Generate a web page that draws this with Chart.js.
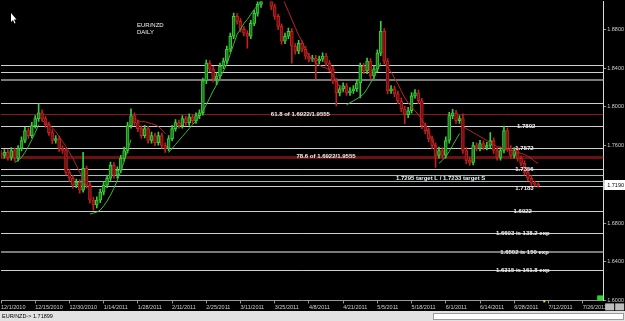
<!DOCTYPE html>
<html>
<head>
<meta charset="utf-8">
<style>
  html, body { margin: 0; padding: 0; background: #000; }
  canvas { display: block; }
</style>
</head>
<body>
<canvas id="myChart" width="625" height="321"></canvas>
<script src="https://cdn.jsdelivr.net/npm/chart.js@4.4.0/dist/chart.umd.min.js"></script>
<script>
const ctx = document.getElementById('myChart');

// date labels, one every 10 daily bars
const tickLabels = ['12/1/2010', '12/15/2010', '12/30/2010', '1/14/2011', '1/28/2011', '2/11/2011',
  '2/25/2011', '3/11/2011', '3/25/2011', '4/8/2011', '4/21/2011', '5/5/2011', '5/18/2011',
  '6/1/2011', '6/14/2011', '6/28/2011', '7/12/2011', '7/26/2011'];
const barsPerTick = 10;
const slotCount = 177; // daily slots on the axis, the last ones still empty

const yTicks = [1.60, 1.64, 1.68, 1.72, 1.76, 1.80, 1.84, 1.88];
const yMin = 1.6;
const yMax = 1.909;

// EUR/NZD daily candles
const open = [
  1.7520, 1.7499, 1.7530, 1.7478, 1.7550, 1.7468, 1.7571, 1.7653, 1.7756, 1.7704,
  1.7807, 1.7879, 1.7940, 1.7879, 1.7817, 1.7735, 1.7653, 1.7673, 1.7571, 1.7550,
  1.7324, 1.7263, 1.7191, 1.7222, 1.7140, 1.7365, 1.7191, 1.7037, 1.6986, 1.7037,
  1.7119, 1.7191, 1.7263, 1.7396, 1.7294, 1.7345, 1.7468, 1.7550, 1.7807, 1.7910,
  1.7838, 1.7776, 1.7704, 1.7776, 1.7653, 1.7704, 1.7632, 1.7704, 1.7602, 1.7571,
  1.7673, 1.7776, 1.7838, 1.7807, 1.7879, 1.7838, 1.7899, 1.7858, 1.7910, 1.7940,
  1.8269, 1.8454, 1.8392, 1.8289, 1.8320, 1.8423, 1.8474, 1.8597, 1.8731, 1.8936,
  1.8885, 1.8803, 1.8762, 1.8731, 1.8864, 1.8967, 1.9060, 1.9193, 1.9296, 1.9193,
  1.9039, 1.8936, 1.8834, 1.8680, 1.8731, 1.8782, 1.8628, 1.8577, 1.8659, 1.8597,
  1.8526, 1.8495, 1.8505, 1.8474, 1.8495, 1.8526, 1.8454, 1.8392, 1.8269, 1.8146,
  1.8187, 1.8218, 1.8146, 1.8167, 1.8187, 1.8248, 1.8423, 1.8372, 1.8474, 1.8320,
  1.8392, 1.8556, 1.8782, 1.8474, 1.8167, 1.8187, 1.8136, 1.8064, 1.7981, 1.7920,
  1.7961, 1.8115, 1.8146, 1.8064, 1.7807, 1.7756, 1.7673, 1.7602, 1.7499, 1.7550,
  1.7499, 1.7653, 1.7910, 1.7940, 1.7858, 1.7879, 1.7550, 1.7448, 1.7427, 1.7602,
  1.7571, 1.7622, 1.7581, 1.7602, 1.7653, 1.7550, 1.7478, 1.7550, 1.7756, 1.7571,
  1.7499, 1.7550, 1.7468, 1.7417, 1.7324, 1.7263, 1.7211, 1.7200
];
const high = [
  1.7550, 1.7560, 1.7560, 1.7580, 1.7575, 1.7600, 1.7690, 1.7790, 1.7785, 1.7840,
  1.7910, 1.8033, 1.7970, 1.7905, 1.7845, 1.7765, 1.7705, 1.7700, 1.7600, 1.7575,
  1.7355, 1.7290, 1.7255, 1.7250, 1.7530, 1.7390, 1.7220, 1.7065, 1.7070, 1.7150,
  1.7225, 1.7295, 1.7430, 1.7425, 1.7380, 1.7500, 1.7585, 1.7840, 1.7981, 1.7940,
  1.7865, 1.7805, 1.7810, 1.7800, 1.7740, 1.7730, 1.7740, 1.7730, 1.7630, 1.7705,
  1.7810, 1.7870, 1.7865, 1.7910, 1.7905, 1.7930, 1.7925, 1.7940, 1.7970, 1.8300,
  1.8485, 1.8480, 1.8420, 1.8350, 1.8455, 1.8505, 1.8630, 1.8765, 1.8970, 1.8965,
  1.8915, 1.8830, 1.8790, 1.8895, 1.9000, 1.9095, 1.9230, 1.9340, 1.9330, 1.9220,
  1.9065, 1.8960, 1.8860, 1.8765, 1.8815, 1.8810, 1.8655, 1.8690, 1.8685, 1.8625,
  1.8555, 1.8535, 1.8535, 1.8525, 1.8560, 1.8555, 1.8480, 1.8420, 1.8295, 1.8220,
  1.8250, 1.8245, 1.8200, 1.8220, 1.8280, 1.8455, 1.8450, 1.8505, 1.8500, 1.8425,
  1.8590, 1.8885, 1.8810, 1.8500, 1.8220, 1.8215, 1.8165, 1.8095, 1.8010, 1.7995,
  1.8150, 1.8180, 1.8175, 1.8090, 1.7835, 1.7785, 1.7700, 1.7630, 1.7585, 1.7580,
  1.7690, 1.7945, 1.7975, 1.7965, 1.7910, 1.7930, 1.7580, 1.7475, 1.7635, 1.7630,
  1.7655, 1.7650, 1.7635, 1.7735, 1.7680, 1.7580, 1.7585, 1.7802, 1.7785, 1.7600,
  1.7580, 1.7580, 1.7495, 1.7445, 1.7350, 1.7290, 1.7235, 1.7215
];
const low = [
  1.7470, 1.7470, 1.7450, 1.7450, 1.7440, 1.7440, 1.7545, 1.7630, 1.7675, 1.7680,
  1.7780, 1.7850, 1.7850, 1.7790, 1.7705, 1.7620, 1.7625, 1.7540, 1.7520, 1.7295,
  1.7230, 1.7160, 1.7165, 1.7110, 1.7120, 1.7160, 1.7005, 1.6934, 1.6955, 1.7010,
  1.7090, 1.7165, 1.7240, 1.7265, 1.7265, 1.7320, 1.7440, 1.7525, 1.7780, 1.7810,
  1.7745, 1.7675, 1.7680, 1.7625, 1.7625, 1.7600, 1.7605, 1.7575, 1.7530, 1.7545,
  1.7650, 1.7750, 1.7780, 1.7780, 1.7810, 1.7810, 1.7830, 1.7830, 1.7880, 1.7915,
  1.8240, 1.8365, 1.8260, 1.8230, 1.8295, 1.8395, 1.8450, 1.8570, 1.8705, 1.8855,
  1.8775, 1.8735, 1.8608, 1.8705, 1.8840, 1.8940, 1.9030, 1.9165, 1.9160, 1.9005,
  1.8905, 1.8800, 1.8650, 1.8655, 1.8705, 1.8454, 1.8545, 1.8550, 1.8570, 1.8495,
  1.8465, 1.8470, 1.8289, 1.8445, 1.8470, 1.8425, 1.8365, 1.8240, 1.8012, 1.8115,
  1.8160, 1.8120, 1.8120, 1.8140, 1.8160, 1.8094, 1.8345, 1.8345, 1.8290, 1.8295,
  1.8365, 1.8530, 1.8445, 1.8135, 1.8140, 1.8105, 1.8035, 1.7950, 1.7828, 1.7890,
  1.7935, 1.8090, 1.8035, 1.7775, 1.7725, 1.7640, 1.7570, 1.7376, 1.7470, 1.7470,
  1.7470, 1.7625, 1.7880, 1.7830, 1.7830, 1.7520, 1.7415, 1.7395, 1.7400, 1.7545,
  1.7545, 1.7555, 1.7555, 1.7575, 1.7520, 1.7450, 1.7450, 1.7525, 1.7540, 1.7470,
  1.7470, 1.7440, 1.7390, 1.7295, 1.7235, 1.7183, 1.7180, 1.7172
];
const close = [
  1.7499, 1.7530, 1.7478, 1.7550, 1.7468, 1.7571, 1.7653, 1.7756, 1.7704, 1.7807,
  1.7879, 1.7940, 1.7879, 1.7817, 1.7735, 1.7653, 1.7673, 1.7571, 1.7550, 1.7324,
  1.7263, 1.7191, 1.7222, 1.7140, 1.7365, 1.7191, 1.7037, 1.6986, 1.7037, 1.7119,
  1.7191, 1.7263, 1.7396, 1.7294, 1.7345, 1.7468, 1.7550, 1.7807, 1.7910, 1.7838,
  1.7776, 1.7704, 1.7776, 1.7653, 1.7704, 1.7632, 1.7704, 1.7602, 1.7571, 1.7673,
  1.7776, 1.7838, 1.7807, 1.7879, 1.7838, 1.7899, 1.7858, 1.7910, 1.7940, 1.8269,
  1.8454, 1.8392, 1.8289, 1.8320, 1.8423, 1.8474, 1.8597, 1.8731, 1.8936, 1.8885,
  1.8803, 1.8762, 1.8731, 1.8864, 1.8967, 1.9060, 1.9193, 1.9296, 1.9193, 1.9039,
  1.8936, 1.8834, 1.8680, 1.8731, 1.8782, 1.8628, 1.8577, 1.8659, 1.8597, 1.8526,
  1.8495, 1.8505, 1.8474, 1.8495, 1.8526, 1.8454, 1.8392, 1.8269, 1.8146, 1.8187,
  1.8218, 1.8146, 1.8167, 1.8187, 1.8248, 1.8423, 1.8372, 1.8474, 1.8320, 1.8392,
  1.8556, 1.8782, 1.8474, 1.8167, 1.8187, 1.8136, 1.8064, 1.7981, 1.7920, 1.7961,
  1.8115, 1.8146, 1.8064, 1.7807, 1.7756, 1.7673, 1.7602, 1.7499, 1.7550, 1.7499,
  1.7653, 1.7910, 1.7940, 1.7858, 1.7879, 1.7550, 1.7448, 1.7427, 1.7602, 1.7571,
  1.7622, 1.7581, 1.7602, 1.7653, 1.7550, 1.7478, 1.7550, 1.7756, 1.7571, 1.7499,
  1.7550, 1.7468, 1.7417, 1.7324, 1.7263, 1.7211, 1.7200, 1.7190
];

// trailing stop curve: rising (green) and falling (red) legs, by first bar index
const stopUpStarts = [4, 26, 49, 101, 128];
const stopUpLegs = [
  [1.7427, 1.7448, 1.7478, 1.7530, 1.7591, 1.7663, 1.7735, 1.7817],
  [1.6893, 1.6903, 1.6913, 1.6934, 1.6975, 1.7027, 1.7088, 1.7160, 1.7242, 1.7335, 1.7437, 1.7550, 1.7663],
  [1.7530, 1.7571, 1.7612, 1.7653, 1.7694, 1.7735, 1.7776, 1.7817, 1.7858, 1.7910, 1.7961, 1.8022,
   1.8094, 1.8166, 1.8228, 1.8300, 1.8372, 1.8443, 1.8546, 1.8649, 1.8751, 1.8803, 1.8864, 1.8905,
   1.8957, 1.9008, 1.9049, 1.9090, 1.9131],
  [1.8022, 1.8043, 1.8064, 1.8084, 1.8105, 1.8136, 1.8187, 1.8248, 1.8310, 1.8382, 1.8454],
  [1.7417, 1.7448, 1.7489, 1.7540, 1.7602, 1.7663, 1.7725]
];
const stopDownStarts = [12, 39, 80, 112, 135];
const stopDownLegs = [
  [1.7858, 1.7838, 1.7817, 1.7786, 1.7745, 1.7694, 1.7642, 1.7591, 1.7530, 1.7468, 1.7396, 1.7324, 1.7252, 1.7180],
  [1.7879, 1.7858, 1.7848, 1.7848, 1.7838, 1.7827, 1.7817, 1.7797, 1.7766, 1.7725],
  [1.9347, 1.9244, 1.9152, 1.9070, 1.8988, 1.8905, 1.8823, 1.8741, 1.8680, 1.8597, 1.8526,
   1.8485, 1.8454, 1.8433, 1.8413, 1.8402, 1.8382, 1.8331, 1.8269, 1.8207, 1.8146],
  [1.8454, 1.8413, 1.8361, 1.8300, 1.8238, 1.8166, 1.8094, 1.8043, 1.8002, 1.7961, 1.7920,
   1.7868, 1.7807, 1.7735, 1.7653, 1.7581],
  [1.7797, 1.7776, 1.7756, 1.7735, 1.7715, 1.7694, 1.7673, 1.7653, 1.7632, 1.7612, 1.7591, 1.7581,
   1.7571, 1.7560, 1.7550, 1.7540, 1.7530, 1.7519, 1.7509, 1.7489, 1.7468, 1.7437, 1.7417]
];

// horizontal levels drawn across the chart
const levelValues = [1.8433, 1.8361, 1.8279, 1.8043, 1.7928, 1.7802, 1.7572, 1.7485,
  1.7356, 1.7295, 1.7233, 1.7183, 1.6922, 1.6693, 1.6502, 1.6315];
const levelKinds = ['white', 'white', 'gray', 'white', 'red', 'white', 'white', 'redThick',
  'white', 'teal', 'teal', 'white', 'white', 'white', 'gray', 'white'];

// notes written on the levels
const noteTexts = ['61.8 of 1.6922/1.9555', '78.6 of 1.6922/1.9555', '1.7802', '1.7572', '1.7356',
  '1.7295 target L / 1.7233 target S', '1.7183', '1.6922', '1.6693 is 138.2 exp',
  '1.6502 is 150 exp', '1.6315 is 161.8 exp'];
const noteValues = [1.7928, 1.7485, 1.7802, 1.7572, 1.7356, 1.7264, 1.7163, 1.6922, 1.6693, 1.6502, 1.6315];

const statusText = 'EUR/NZD-> 1.71899';

// ---- styles / placement ----
const noteAt = [87.5, 95, 153.5, 153, 153, 128.5, 153, 152.5, 152.5, 153, 152.5];
const levelStyles = {
  white: { color: '#cfcfcf', width: 1 },
  gray: { color: '#7a7a7a', width: 2 },
  red: { color: '#8a1a1a', width: 1 },
  redThick: { color: '#681212', width: 3 },
  teal: { color: '#8fc3c3', width: 1 },
};
const upFill = '#1c7a1c', upLine = '#3ccc3c';
const downFill = '#741010', downLine = '#c02020';
const font = '"Liberation Sans", Arial, sans-serif';

Chart.defaults.font.family = font;
Chart.defaults.font.size = 5.5;

const categories = Array.from({ length: slotCount }, (_, i) => i);
const isUp = close.map((c, i) => c >= open[i]);

const spreadLegs = (starts, legs) => {
  const out = new Array(slotCount).fill(null);
  legs.forEach((leg, k) => leg.forEach((v, j) => { out[starts[k] + j] = v; }));
  return out;
};

const backdrop = {
  id: 'backdrop',
  beforeDraw(chart) {
    const c = chart.ctx;
    c.save();
    c.fillStyle = '#000';
    c.fillRect(0, 0, chart.width, chart.height);
    c.restore();
  },
};

const levelLines = {
  id: 'levelLines',
  beforeDatasetsDraw(chart) {
    const { ctx: c, chartArea: a, scales } = chart;
    c.save();
    levelValues.forEach((v, i) => {
      const st = levelStyles[levelKinds[i]];
      let y = Math.round(scales.y.getPixelForValue(v));
      if (st.width % 2 === 1) y += 0.5;
      c.strokeStyle = st.color;
      c.lineWidth = st.width;
      c.beginPath();
      c.moveTo(a.left, y);
      c.lineTo(a.right, y);
      c.stroke();
    });
    c.restore();
  },
};

const notes = {
  id: 'notes',
  afterDatasetsDraw(chart) {
    const { ctx: c, scales } = chart;
    c.save();
    c.font = 'bold 6px ' + font;
    c.fillStyle = '#f0f0f0';
    c.textAlign = 'center';
    c.textBaseline = 'middle';
    noteTexts.forEach((t, i) => {
      c.fillText(t, scales.x.getPixelForValue(noteAt[i]), scales.y.getPixelForValue(noteValues[i]));
    });
    // title
    c.textAlign = 'left';
    c.font = '6px ' + font;
    c.fillText('EUR/NZD', 137, 25);
    c.fillText('DAILY', 137, 32.5);
    c.restore();
  },
  afterDraw(chart) {
    const { ctx: c, chartArea: a, scales, width, height } = chart;
    c.save();
    // last price box on the axis
    const last = close[close.length - 1];
    const ly = Math.round(scales.y.getPixelForValue(last));
    c.fillStyle = '#ffffff';
    c.fillRect(a.right + 1, ly - 5, width - a.right - 1, 10);
    c.fillStyle = '#000';
    c.font = '5.5px ' + font;
    c.textBaseline = 'middle';
    c.fillText(last.toFixed(4), a.right + 4, ly + 0.5);
    // corner markers
    c.fillStyle = '#22dd22';
    c.fillRect(a.right - 6, a.bottom - 5, 6, 5);
    c.fillStyle = '#e6e640';
    c.fillRect(scales.x.getPixelForValue(158.5), a.bottom, 2, 2);
    c.fillStyle = '#bdbdbd';
    c.fillRect(a.right + 2, a.bottom + 3, 9, 7);
    c.fillRect(a.right + 12, a.bottom + 3, 9, 7);
    // status strip
    c.fillStyle = '#e2e2e2';
    c.fillRect(0, height - 10, width, 10);
    c.fillStyle = '#ffffff';
    c.fillRect(433, height - 8, width - 434, 7);
    c.strokeStyle = '#9a9a9a';
    c.lineWidth = 1;
    c.strokeRect(433.5, height - 7.5, width - 435, 6);
    c.fillStyle = '#000';
    c.fillText(statusText, 2, height - 4.5);
    // mouse pointer
    c.beginPath();
    c.moveTo(11, 13); c.lineTo(11, 22); c.lineTo(13, 20); c.lineTo(14.5, 23.5);
    c.lineTo(15.5, 23); c.lineTo(14, 19.5); c.lineTo(16.5, 19.5); c.closePath();
    c.fillStyle = '#fff';
    c.fill();
    c.restore();
  },
};

new Chart(ctx, {
  type: 'bar',
  data: {
    labels: categories,
    datasets: [
      {
        type: 'line',
        data: spreadLegs(stopUpStarts, stopUpLegs),
        borderColor: '#3db83d',
        borderWidth: 1,
        pointRadius: 0,
        spanGaps: false,
        order: 0,
      },
      {
        type: 'line',
        data: spreadLegs(stopDownStarts, stopDownLegs),
        borderColor: '#b82626',
        borderWidth: 1,
        pointRadius: 0,
        spanGaps: false,
        order: 0,
      },
      {
        data: open.map((o, i) => [o, close[i]]),
        backgroundColor: isUp.map((u) => (u ? upFill : downFill)),
        borderColor: isUp.map((u) => (u ? upLine : downLine)),
        borderWidth: 1,
        borderSkipped: false,
        barThickness: 3,
        minBarLength: 1,
        grouped: false,
        order: 1,
      },
      {
        data: low.map((l, i) => [l, high[i]]),
        backgroundColor: isUp.map((u) => (u ? upLine : downLine)),
        borderWidth: 0,
        barThickness: 1,
        grouped: false,
        order: 2,
      },
    ],
  },
  options: {
    responsive: false,
    animation: false,
    layout: { padding: { bottom: 9 } },
    scales: {
      x: {
        offset: false,
        grid: { drawOnChartArea: false, offset: false, color: '#9a9a9a', tickLength: 3 },
        border: { color: '#9a9a9a' },
        ticks: {
          color: '#cfcfcf',
          padding: 1,
          align: 'start',
          autoSkip: false,
          maxRotation: 0,
          callback: (value) => tickLabels[value / barsPerTick],
        },
        afterBuildTicks: (axis) => {
          axis.ticks = axis.ticks.filter(
            (t) => t.value % barsPerTick === 0 && t.value / barsPerTick < tickLabels.length
          );
        },
      },
      y: {
        position: 'right',
        min: yMin,
        max: yMax,
        grid: { drawOnChartArea: false, color: '#9a9a9a', tickLength: 3 },
        border: { color: '#d8d8d8' },
        ticks: {
          color: '#cfcfcf',
          padding: 1,
          font: { lineHeight: 0.2 },
          callback: (value) => value.toFixed(4),
        },
        afterBuildTicks: (axis) => {
          axis.ticks = yTicks.map((v) => ({ value: v }));
        },
      },
    },
    plugins: {
      legend: { display: false },
      tooltip: { enabled: false },
    },
  },
  plugins: [backdrop, levelLines, notes],
});
</script>
</body>
</html>
